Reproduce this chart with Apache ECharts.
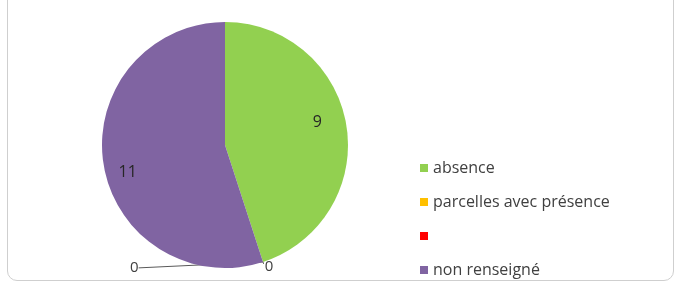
<!DOCTYPE html>
<html>
<head>
<meta charset="utf-8">
<script src="https://cdn.jsdelivr.net/npm/echarts@6/dist/echarts.min.js"></script>
<style>
  html, body { margin: 0; padding: 0; background: #fff; overflow: hidden; }
  #frame {
    position: absolute; left: 7px; top: -12px; width: 667px; height: 293px;
    border: 1px solid #cfcfcf; border-radius: 10px; box-sizing: border-box;
  }
  #chart { position: absolute; left: 0; top: 0; width: 682px; height: 284px; }
</style>
</head>
<body>
<div id="frame"></div>
<div id="chart"></div>
<script>
// données
var categories = ['absence', 'parcelles avec présence', ' ', 'non renseigné'];
var values = [9, 0, 0, 11];
var colors = ['#92d050', '#ffc000', '#ff0000', '#8064a2'];

var chart = echarts.init(document.getElementById('chart'));

var pieData = categories.map(function (name, i) {
  return { name: name, value: values[i], itemStyle: { color: colors[i] } };
});

var center = [225, 145];
var radius = 123;

option = {
  animation: false,
  textStyle: { fontFamily: 'Open Sans' },
  legend: {
    orient: 'vertical',
    left: 415,
    top: 153,
    height: 200,
    itemWidth: 8,
    itemHeight: 8,
    itemGap: 14,
    icon: 'rect',
    data: categories,
    textStyle: { fontSize: 16, color: '#404040', fontFamily: 'Open Sans', lineHeight: 20 },
    selectedMode: false
  },
  series: [
    {
      // camembert principal, étiquettes "0" à l'extérieur
      type: 'pie',
      center: center,
      radius: radius,
      startAngle: 90,
      clockwise: true,
      avoidLabelOverlap: false,
      silent: true,
      data: pieData.map(function (d) {
        var zero = d.value === 0;
        return {
          name: d.name, value: d.value, itemStyle: d.itemStyle,
          label: { show: zero },
          labelLine: { show: zero }
        };
      }),
      label: {
        position: 'outside',
        formatter: '{c}',
        fontSize: 15,
        color: '#404040',
        fontFamily: 'Open Sans'
      },
      labelLine: {
        length: 2,
        length2: 0,
        lineStyle: { color: '#595959', width: 1 }
      },
      labelLayout: function (p) {
        var r = p.labelRect;
        if (p.dataIndex === 2) {
          return {
            x: r.x - 130, y: r.y + r.height / 2 + 4,
            align: 'right', verticalAlign: 'middle'
          };
        }
        return { dx: -4, dy: 3 };
      }
    },
    {
      // anneau invisible pour placer les étiquettes des valeurs non nulles
      type: 'pie',
      center: center,
      radius: [72, radius],
      startAngle: 90,
      clockwise: true,
      silent: true,
      itemStyle: { color: 'rgba(0,0,0,0)' },
      data: pieData.map(function (d) {
        return { name: d.name, value: d.value, label: { show: d.value > 0 } };
      }),
      label: {
        position: 'inside',
        formatter: '{c}',
        fontSize: 16,
        color: '#262626',
        fontFamily: 'Open Sans'
      },
      labelLine: { show: false },
      labelLayout: function (p) {
        return p.dataIndex === 0 ? { dx: -7, dy: -7 } : { dx: 2, dy: 12 };
      },
      emphasis: { disabled: true }
    }
  ]
};
chart.setOption(option);
</script>
</body>
</html>
